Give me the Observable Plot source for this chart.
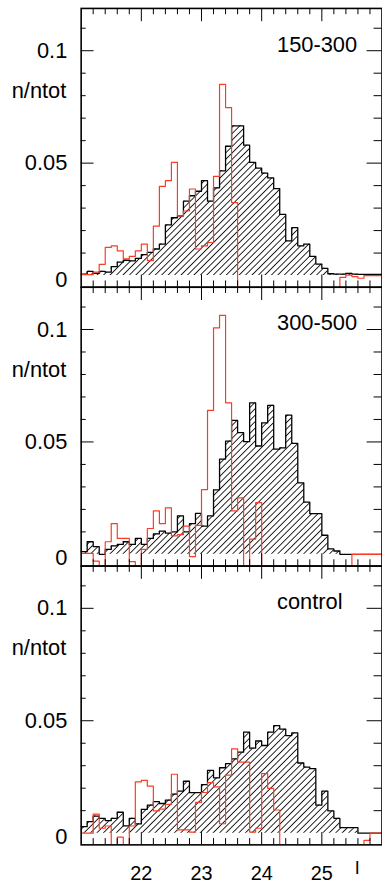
<!DOCTYPE html>
<html><head><meta charset="utf-8">
<script src="https://cdn.jsdelivr.net/npm/d3@7"></script>
<script src="https://cdn.jsdelivr.net/npm/@observablehq/plot@0.6"></script>
<style>
html,body{margin:0;padding:0;background:#fff;overflow:hidden;}
#chart{width:382px;height:890px;overflow:hidden;}
</style></head><body><div id="chart"></div>
<script>
const panels = ["150-300", "300-500", "control"];
const xTickLabels = [22, 23, 24, 25];
const yTickLabels = [0, 0.05, 0.1];
const xLabel = "I";
const yLabel = "n/ntot";
// bin left edges, 0.1 mag wide, 21.0 ... 25.9 (plus closing edge 26.0)
const binEdges = d3.range(51).map(i => +(21 + i / 10).toFixed(1));

const black150 = [0.0006, 0.0019, 0.001, 0.0019, 0.0015, 0.004, 0.006, 0.0068, 0.0065, 0.0076,
  0.0093, 0.0103, 0.0118, 0.014, 0.0225, 0.0257, 0.0265, 0.0331, 0.0355, 0.0375,
  0.0422, 0.0331, 0.039, 0.0466, 0.0575, 0.0666, 0.0666, 0.058, 0.0503, 0.0478,
  0.0456, 0.0434, 0.0387, 0.0272, 0.0154, 0.0213, 0.0132, 0.014, 0.0085, 0.0051,
  0.0032, 0.0008, 0.0006, 0.0006, 0.001, 0.0006, 0.0005, 0.0005, 0.0005, 0.0005];
const red150 = [0.0004, 0.0004, 0.0015, 0.005, 0.0125, 0.0132, 0.011, 0.0074, 0.0085, 0.011,
  0.014, 0.0066, 0.022, 0.0397, 0.0422, 0.0503, 0.0265, 0.0287, 0.0385, 0.0118,
  0.0132, 0.0147, 0.0441, 0.085, 0.0747, 0.0324, -0.006, -0.006, -0.006, -0.006,
  -0.006, -0.006, -0.006, -0.006, -0.006, -0.006, -0.006, -0.006, -0.006, -0.006,
  -0.006, -0.006, -0.006, -0.0008, 0.0002, -0.0005, -0.0012, 0, 0, 0];

const black300 = [0.0012, 0.0056, 0.0034, 0.0, 0.0022, 0.0038, 0.0044, 0.0056, 0.0044, 0.0071,
  0.0044, 0.0071, 0.0091, 0.0103, 0.0094, 0.0100, 0.0171, 0.0100, 0.0137, 0.0182,
  0.0126, 0.0171, 0.0287, 0.0424, 0.0504, 0.0596, 0.0541, 0.0501, 0.0674, 0.0482,
  0.0585, 0.0663, 0.0468, 0.0474, 0.0619, 0.0494, 0.0318, 0.0232, 0.0181, 0.0181,
  0.0085, 0.0024, 0.0015, 0, 0, 0, 0, 0, 0, 0];
const red300 = [0.0004, 0.0004, -0.003, -0.006, 0.0056, 0.0137, 0.0071, 0.0071, -0.0032, -0.006,
  0.0022, 0.0115, 0.0193, 0.0137, 0.0207, 0.0082, 0.0088, 0.0126, -0.001, 0.0129,
  0.0288, 0.064, 0.1007, 0.1063, 0.0674, 0.0193, 0.0251, -0.006, 0.0068, 0.023,
  -0.006, -0.006, -0.006, -0.006, -0.006, -0.006, -0.006, -0.006, -0.006, -0.006,
  -0.006, -0.006, -0.006, -0.006, -0.006, 0, 0, 0, 0, 0];

const blackCtl = [0.0029, 0.0051, 0.0076, 0.0066, 0.0056, 0.0066, 0.0093, 0.0032, 0.0066, 0.0041,
  0.0106, 0.0125, 0.014, 0.0132, 0.0147, 0.0174, 0.0187, 0.0231, 0.018, 0.018,
  0.0216, 0.0279, 0.0246, 0.0291, 0.0309, 0.033, 0.036, 0.0449, 0.0378, 0.041,
  0.039, 0.0449, 0.0478, 0.0463, 0.0434, 0.0446, 0.0312, 0.0294, 0.0287, 0.0125,
  0.0187, 0.0099, 0.0066, 0.0025, 0.0025, 0.0025, 0, 0, 0, 0];
const redCtl = [0, 0, 0.0085, 0.0022, 0.0032, -0.006, -0.0018, -0.006, 0.0032, 0.0228,
  0.0235, 0.0209, 0.0099, 0.0107, 0.0128, 0.0262, 0.0015, 0.0015, 0.0005, 0.0137,
  0.0181, 0.0225, 0.0206, 0.0042, 0.0258, 0.0375, 0.0316, 0.0316, 0.0005, 0.0022,
  0.0265, 0.0199, 0.0103, -0.006, -0.006, -0.006, -0.006, -0.006, -0.006, -0.006,
  -0.006, -0.006, -0.006, -0.006, -0.006, -0.006, -0.006, -0.0032, 0, 0];

const series = [[black150, red150], [black300, red300], [blackCtl, redCtl]];
const rows = [];
panels.forEach((p, k) => {
  const [b, r] = series[k];
  binEdges.forEach((x, i) => {
    const j = Math.min(i, b.length - 1);
    rows.push({panel: p, x, black: b[j], red: r[j]});
  });
});

// tick positions
const majorX = xTickLabels;
const minorX = d3.range(21.2, 25.95, 0.2).map(v => +v.toFixed(1)).filter(v => !Number.isInteger(v));
const majorY = [0.05, 0.1];
const minorY = d3.range(1, 12).map(v => v / 100).filter(v => !majorY.includes(v));

const W = 385, H = 890, ML = 81.3, MR = 0.5, MT = 7, MB = 38;
const FW = W - ML - MR;
const FH = (H - MT - MB) / 3;
const RED = "#ff3a22";
const FONT = "Liberation Sans, Arial, Helvetica, sans-serif";

const chart = Plot.plot({
  width: W, height: H,
  marginLeft: ML, marginRight: MR, marginTop: MT, marginBottom: MB,
  style: {fontFamily: FONT, fontSize: "20px", background: "white", color: "black"},
  x: {domain: [21, 26], label: null},
  y: {domain: [-0.0052, 0.1188], label: null},
  fy: {domain: panels, padding: 0, axis: null, label: null},
  marks: [
    Plot.areaY(rows, {x: "x", y1: 0, y2: "black", fy: "panel", curve: "step-after", fill: "url(#hatch)"}),
    Plot.lineY(rows, {x: "x", y: "black", fy: "panel", curve: "step-after", stroke: "black", strokeWidth: 1.3}),
    Plot.lineY(rows, {x: "x", y: "red", fy: "panel", curve: "step-after", stroke: RED, strokeWidth: 1.2, clip: true}),
    // inward ticks on all four sides
    Plot.tickX(minorX, {x: d => d, insetTop: FH - 7, stroke: "black", strokeWidth: 1}),
    Plot.tickX(majorX, {x: d => d, insetTop: FH - 13, stroke: "black", strokeWidth: 1}),
    Plot.tickX(minorX, {x: d => d, insetBottom: FH - 7, stroke: "black", strokeWidth: 1}),
    Plot.tickX(majorX, {x: d => d, insetBottom: FH - 14, stroke: "black", strokeWidth: 1}),
    Plot.tickY(minorY, {y: d => d, insetRight: FW - 5, stroke: "black", strokeWidth: 1}),
    Plot.tickY(majorY, {y: d => d, insetRight: FW - 13, stroke: "black", strokeWidth: 1}),
    Plot.tickY(minorY, {y: d => d, insetLeft: FW - 8, stroke: "black", strokeWidth: 1}),
    Plot.tickY(majorY, {y: d => d, insetLeft: FW - 15, stroke: "black", strokeWidth: 1}),
    Plot.frame({stroke: "black", strokeWidth: 1.6}),
    Plot.axisY({ticks: yTickLabels.filter(v => v !== 0), tickSize: 0, tickPadding: 14, tickFormat: d => String(d), fontSize: 22, label: null}),
    Plot.axisY({ticks: yTickLabels.filter(v => v === 0), tickSize: 0, tickPadding: 14, tickFormat: d => String(d), fontSize: 22, dy: 4, label: null}),
    Plot.axisX({ticks: xTickLabels, tickSize: 0, tickPadding: 21, tickFormat: d => String(d), fontSize: 20, label: null}),
    Plot.text(panels, {fy: d => d, text: () => yLabel, frameAnchor: "top-left", dx: -15, dy: 83, textAnchor: "end", lineAnchor: "middle", fontSize: 22}),
    Plot.text(panels, {fy: d => d, text: d => d, frameAnchor: "top-left", dx: 197.4, dy: 36.5, textAnchor: "start", lineAnchor: "middle", fontSize: 22}),
    Plot.text([panels[2]], {fy: d => d, text: () => xLabel, frameAnchor: "bottom-right", dx: -25, dy: 24, textAnchor: "middle", lineAnchor: "middle", fontSize: 18})
  ]
});

d3.select(chart).insert("defs", ":first-child").html(
  `<pattern id="hatch" patternUnits="userSpaceOnUse" width="4.6" height="4.6" patternTransform="rotate(45)">
     <line x1="2.3" y1="-1" x2="2.3" y2="5.6" stroke="black" stroke-width="0.85"/>
   </pattern>`);
document.getElementById("chart").appendChild(chart);
</script></body></html>
